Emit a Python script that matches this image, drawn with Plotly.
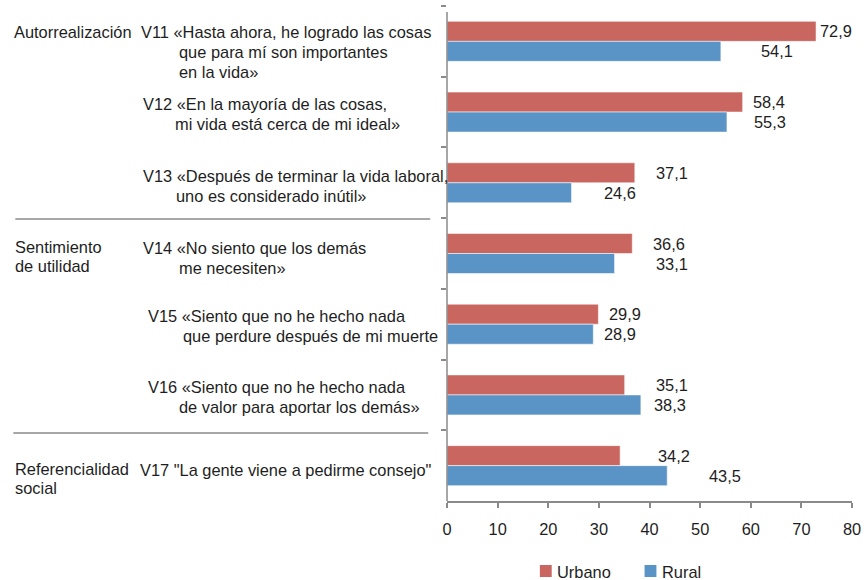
import plotly.graph_objects as go

# ---------------- data ----------------
categories = ["V11", "V12", "V13", "V14", "V15", "V16", "V17"]
urbano = [72.9, 58.4, 37.1, 36.6, 29.9, 35.1, 34.2]
rural = [54.1, 55.3, 24.6, 33.1, 28.9, 38.3, 43.5]
series_names = ["Urbano", "Rural"]
x_ticks = [0, 10, 20, 30, 40, 50, 60, 70, 80]

item_labels = [
    ["V11 «Hasta ahora, he logrado las cosas", "que para mí son importantes", "en la vida»"],
    ["V12 «En la mayoría de las cosas,", "mi vida está cerca de mi ideal»"],
    ["V13 «Después de terminar la vida laboral,", "uno es considerado inútil»"],
    ["V14 «No siento que los demás", "me necesiten»"],
    ["V15 «Siento que no he hecho nada", "que perdure después de mi muerte"],
    ["V16 «Siento que no he hecho nada", "de valor para aportar los demás»"],
    ["V17 \"La gente viene a pedirme consejo\""],
]
group_labels = [
    ["Autorrealización"],
    ["Sentimiento", "de utilidad"],
    ["Referencialidad", "social"],
]

# ---------------- style / layout ----------------
W_FIG, H_FIG = 867, 580
L, R, T, B = 447, 10, 6, 79
PW = W_FIG - L - R
PH = H_FIG - T - B
RED = "#C8665F"
BLUE = "#5A93C6"
TXT = "#1e1e1e"
AXC = "#8a8a8a"
FONT = "Liberation Sans, Arial, Helvetica, sans-serif"
FS = 16.4

# pixel offsets of the value labels beyond the bar ends (manual placement in original)
urb_dx = [4, 10, 21, 21, 11, 31, 38]
rur_dx = [40, 27, 32, 41, 11, 13, 42]

# left text layout: ([x_px per line], [y_px per line])
item_pos = [
    ([137, 176, 176], [32, 52, 72]),
    ([139, 172], [104, 124]),
    ([139, 173], [176, 196]),
    ([139, 176], [248, 268]),
    ([144, 180], [316, 336]),
    ([144, 176], [387, 407]),
    ([136], [470]),
]
group_pos = [
    (9, [32]),
    (10, [247, 266]),
    (10, [469, 488]),
]
separators = [(10, 430, 219), (8, 428, 433)]


def px2x(px):
    return (px - L) / PW


def px2y(py):
    return 1 - (py - T) / PH


fig = go.Figure()
fig.add_trace(go.Bar(
    y=categories, x=urbano, name=series_names[0], orientation="h",
    marker=dict(color=RED, line=dict(color="rgba(255,255,255,0.55)", width=1)),
))
fig.add_trace(go.Bar(
    y=categories, x=rural, name=series_names[1], orientation="h",
    marker=dict(color=BLUE, line=dict(color="rgba(255,255,255,0.55)", width=1)),
))

annotations = []


def txt(**kw):
    d = dict(showarrow=False, xanchor="left", yanchor="middle", borderpad=0, borderwidth=0,
             font=dict(size=FS, color=TXT, family=FONT))
    d.update(kw)
    return d


# value labels
for cat, v, dx in zip(categories, urbano, urb_dx):
    annotations.append(txt(x=v, y=cat, xref="x", yref="y", text=f"{v:.1f}".replace(".", ","),
                           xshift=dx, yshift=10))
for cat, v, dx in zip(categories, rural, rur_dx):
    annotations.append(txt(x=v, y=cat, xref="x", yref="y", text=f"{v:.1f}".replace(".", ","),
                           xshift=dx, yshift=-10))

# item labels
for lines, (xs, ys) in zip(item_labels, item_pos):
    for line, xp, yp in zip(lines, xs, ys):
        annotations.append(txt(x=px2x(xp), y=px2y(yp), xref="paper", yref="paper", text=line))
# group labels
for lines, (xp, ys) in zip(group_labels, group_pos):
    for line, yp in zip(lines, ys):
        annotations.append(txt(x=px2x(xp), y=px2y(yp), xref="paper", yref="paper", text=line))

shapes = []
for x0, x1, yy in separators:
    shapes.append(dict(type="line", xref="paper", yref="paper", x0=px2x(x0), x1=px2x(x1),
                       y0=px2y(yy), y1=px2y(yy), line=dict(color=AXC, width=1.5)))
# y axis line
shapes.append(dict(type="line", xref="paper", yref="paper", x0=0, x1=0, y0=0, y1=px2y(12),
                   line=dict(color=AXC, width=1.5)))

# manual legend (squares + labels)
legend_items = [(series_names[0], RED, 541, 558), (series_names[1], BLUE, 647, 665)]
for name, col, sx, tx in legend_items:
    shapes.append(dict(type="rect", xref="paper", yref="paper", x0=px2x(sx), x1=px2x(sx + 12),
                       y0=px2y(577), y1=px2y(565), fillcolor=col, line=dict(width=0)))
    annotations.append(txt(x=px2x(tx), y=px2y(572), xref="paper", yref="paper", text=name))

fig.update_layout(
    width=W_FIG, height=H_FIG,
    margin=dict(l=L, r=R, t=T, b=B, pad=0),
    paper_bgcolor="white", plot_bgcolor="white",
    barmode="group", bargap=0.434, bargroupgap=0,
    showlegend=False,
    font=dict(family=FONT, size=FS, color=TXT),
    annotations=annotations, shapes=shapes,
)
fig.update_xaxes(range=[0, 80], tickvals=x_ticks, ticktext=[str(t) for t in x_ticks],
                 showgrid=False, zeroline=False, showline=True, linecolor=AXC, linewidth=1.5,
                 ticks="outside", ticklen=5, tickcolor=AXC, tickwidth=1.5,
                 tickfont=dict(size=FS, color=TXT, family=FONT), ticklabelstandoff=8)
fig.update_yaxes(type="category", categoryorder="array", categoryarray=categories,
                 autorange="reversed", showticklabels=False, showgrid=False, zeroline=False,
                 showline=False, ticks="outside", tickson="boundaries", ticklen=5,
                 tickcolor=AXC, tickwidth=1.5)

fig.write_html("out.html", config={"displayModeBar": False},
               post_script="document.body.style.margin='0';document.body.style.overflow='hidden';")
